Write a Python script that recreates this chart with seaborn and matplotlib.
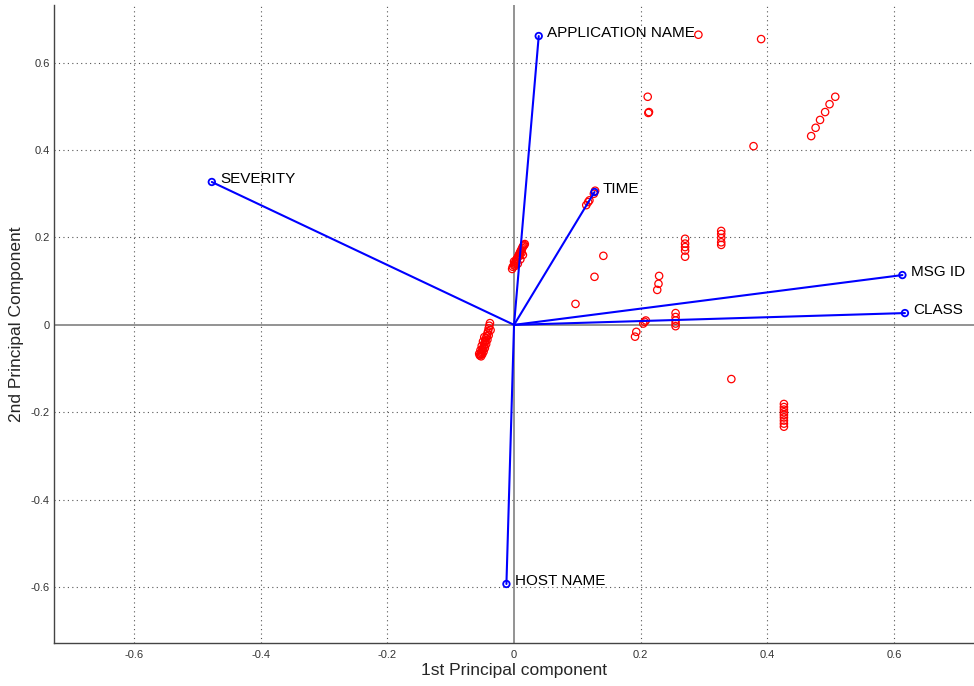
import matplotlib

matplotlib.use("Agg")
import matplotlib.pyplot as plt
import pandas as pd
import seaborn as sns

# Variable loadings (biplot vectors)
var_names = ["APPLICATION NAME", "SEVERITY", "TIME", "MSG ID", "CLASS", "HOST NAME"]
load_pc1 = [0.039, -0.477, 0.127, 0.613, 0.617, -0.012]
load_pc2 = [0.661, 0.327, 0.304, 0.114, 0.027, -0.593]

# Observation scores
score_pc1 = [
    # cluster left of origin
    -0.038, -0.039, -0.040, -0.037, -0.041, -0.042, -0.040, -0.043, -0.044, -0.042,
    -0.045, -0.046, -0.044, -0.047, -0.048, -0.046, -0.049, -0.050, -0.048, -0.051,
    -0.052, -0.050, -0.053, -0.054, -0.052, -0.055, -0.053, -0.051, -0.049, -0.047,
    # cluster above origin
    -0.003, -0.002, 0.000, 0.001, 0.002, 0.003, 0.004, 0.005, 0.006, 0.007,
    0.008, 0.009, 0.010, 0.011, 0.012, 0.013, 0.014, 0.015, 0.016, 0.017,
    0.000, 0.004, 0.008, 0.012, 0.006, 0.010, 0.014, 0.002,
    # along TIME
    0.128, 0.126, 0.117, 0.114, 0.119,
    # scattered
    0.141, 0.127, 0.097, 0.291, 0.390, 0.211, 0.212, 0.213, 0.378,
    0.469, 0.476, 0.483, 0.491, 0.498, 0.507,
    0.270, 0.270, 0.270, 0.270, 0.270,
    0.327, 0.327, 0.327, 0.327, 0.327,
    0.229, 0.228, 0.226,
    0.206, 0.204, 0.208,
    0.255, 0.255, 0.255, 0.255, 0.255,
    0.193, 0.191, 0.343,
    0.426, 0.426, 0.426, 0.426, 0.426, 0.426, 0.426, 0.426, 0.426,
]
score_pc2 = [
    0.004, -0.002, -0.008, -0.012, -0.015, -0.020, -0.024, -0.026, -0.030, -0.034,
    -0.036, -0.040, -0.044, -0.046, -0.050, -0.053, -0.055, -0.058, -0.061, -0.062,
    -0.065, -0.067, -0.068, -0.070, -0.072, -0.066, -0.058, -0.048, -0.038, -0.028,
    0.128, 0.133, 0.136, 0.140, 0.143, 0.146, 0.149, 0.152, 0.155, 0.158,
    0.161, 0.164, 0.167, 0.170, 0.173, 0.176, 0.179, 0.181, 0.183, 0.185,
    0.145, 0.150, 0.158, 0.165, 0.140, 0.150, 0.160, 0.135,
    0.307, 0.300, 0.281, 0.274, 0.285,
    0.158, 0.110, 0.048, 0.664, 0.654, 0.522, 0.485, 0.487, 0.409,
    0.432, 0.451, 0.469, 0.487, 0.505, 0.522,
    0.197, 0.186, 0.178, 0.170, 0.156,
    0.215, 0.208, 0.199, 0.189, 0.183,
    0.112, 0.094, 0.080,
    0.007, 0.003, 0.010,
    0.027, 0.018, 0.010, 0.003, -0.003,
    -0.016, -0.027, -0.124,
    -0.181, -0.188, -0.194, -0.200, -0.206, -0.212, -0.219, -0.226, -0.233,
]

tick_values = [-0.6, -0.4, -0.2, 0, 0.2, 0.4, 0.6]
tick_labels = ["-0.6", "-0.4", "-0.2", "0", "0.2", "0.4", "0.6"]


def create_biplot() -> None:
    sns.set_theme(style="white")
    plt.rcParams["font.family"] = ["Liberation Sans", "DejaVu Sans"]

    fig = plt.figure(figsize=(9.74, 6.86), dpi=100)
    ax = fig.add_axes([0.0555, 0.0627, 0.9445, 0.930])

    # grid and axis lines through the origin
    for t in tick_values:
        if t != 0:
            ax.axvline(t, color="#555555", linestyle=(0, (1, 3)), linewidth=0.8, zorder=0)
            ax.axhline(t, color="#555555", linestyle=(0, (1, 3)), linewidth=0.8, zorder=0)
    ax.axvline(0, color="#808080", linewidth=1.2, zorder=0)
    ax.axhline(0, color="#808080", linewidth=1.2, zorder=0)

    # observation scores
    scores = pd.DataFrame({"pc1": score_pc1, "pc2": score_pc2})
    sns.scatterplot(
        data=scores, x="pc1", y="pc2", ax=ax, marker="o", s=28,
        facecolors="none", edgecolor="red", linewidth=0.9, zorder=2,
    )

    # variable vectors
    vectors = pd.DataFrame({
        "name": [n for n in var_names for _ in range(2)],
        "pc1": [v for x in load_pc1 for v in (0.0, x)],
        "pc2": [v for y in load_pc2 for v in (0.0, y)],
    })
    sns.lineplot(
        data=vectors, x="pc1", y="pc2", units="name", estimator=None, sort=False,
        color="blue", linewidth=1.5, ax=ax, zorder=3,
    )
    ends = pd.DataFrame({"pc1": load_pc1, "pc2": load_pc2})
    sns.scatterplot(
        data=ends, x="pc1", y="pc2", ax=ax, marker="o", s=22,
        facecolors="none", edgecolor="blue", linewidth=1.3, zorder=4,
    )
    for name, x, y in zip(var_names, load_pc1, load_pc2):
        ax.annotate(name, (x, y), xytext=(6, 2), textcoords="offset points",
                    ha="left", va="center", fontsize=11, color="black", zorder=5)

    ax.set_xlim(-0.726, 0.726)
    ax.set_ylim(-0.728, 0.732)
    ax.set_xticks(tick_values)
    ax.set_xticklabels(tick_labels)
    ax.set_yticks(tick_values)
    ax.set_yticklabels(tick_labels)
    ax.tick_params(direction="in", length=6, width=1, colors="#333333",
                   labelsize=8, labelcolor="#333333")
    ax.tick_params(axis="x", pad=5)
    ax.tick_params(axis="y", pad=3)

    for side in ["top", "right"]:
        ax.spines[side].set_visible(False)
    for side in ["left", "bottom"]:
        ax.spines[side].set_color("#444444")
        ax.spines[side].set_linewidth(1.0)

    ax.set_xlabel("1st Principal component", fontsize=12.5, labelpad=2)
    ax.set_ylabel("2nd Principal Component", fontsize=12.5, labelpad=5)

    fig.savefig("out.png", dpi=100)


if __name__ == "__main__":
    create_biplot()
